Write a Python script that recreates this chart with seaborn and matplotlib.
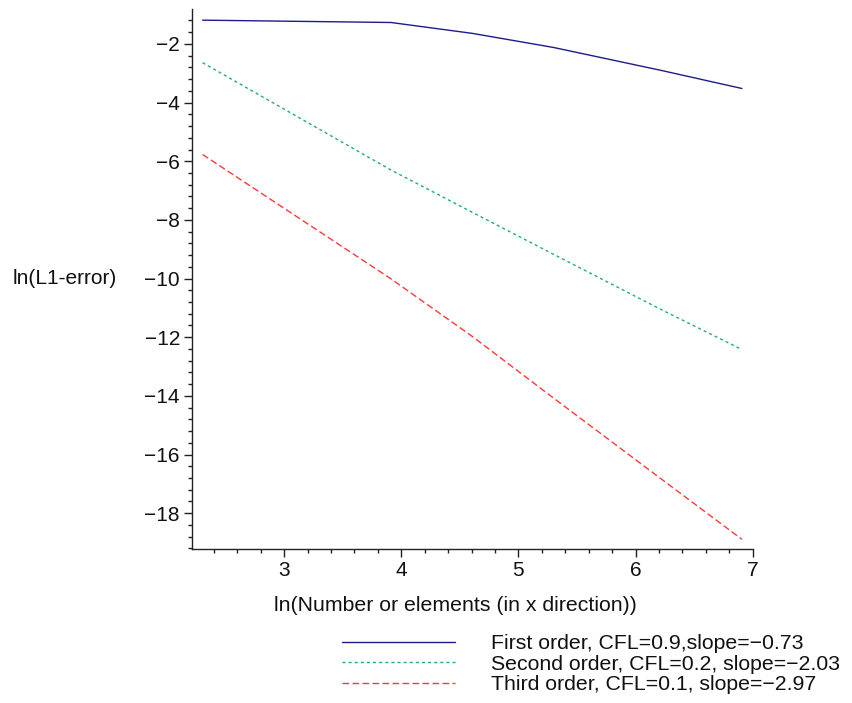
import numpy as np
import pandas as pd
import matplotlib
matplotlib.use("Agg")
import matplotlib.pyplot as plt
import seaborn as sns

# Data: ln(N) and ln(L1-error)
x_vals = [2.303, 3.912, 4.605, 5.298, 6.215, 6.908]
first_order = [-1.19, -1.27, -1.64, -2.12, -2.90, -3.52]
second_order = [-2.64, -6.30, -7.74, -9.17, -11.05, -12.42]
third_order = [-5.77, -10.01, -11.97, -14.07, -16.82, -18.89]

labels = [
    "First order, CFL=0.9,slope=\u22120.73",
    "Second order, CFL=0.2, slope=\u22122.03",
    "Third order, CFL=0.1, slope=\u22122.97",
]
colors = ["#1c1c8c", "#20b070", "#ff3838"]
dash_patterns = [None, (2.2, 2.2), (4.8, 2.4)]

sns.set_theme(style="ticks")
plt.rcParams["font.family"] = ["Liberation Sans", "DejaVu Sans"]
plt.rcParams["axes.unicode_minus"] = True

W, H = 852, 703
fig = plt.figure(figsize=(W / 100, H / 100), dpi=100)
ax = fig.add_axes([191.7 / W, 1 - 549 / H, (752.7 - 191.7) / W, (549 - 9.3) / H])

for ys, lab, col, dp in zip([first_order, second_order, third_order], labels, colors, dash_patterns):
    df = pd.DataFrame({"x": x_vals, "y": ys})
    sns.lineplot(data=df, x="x", y="y", ax=ax, color=col, linewidth=1.0, label=lab, sort=False)
    ln = ax.lines[-1]
    if dp is not None:
        ln.set_dashes(dp)

ax.set_xlim(2.21, 7.0)
ax.set_ylim(-19.22, -0.82)
ax.set_xticks([3, 4, 5, 6, 7])
ax.set_xticks(np.arange(2.4, 7.0, 0.2), minor=True)
ax.set_yticks([-2, -4, -6, -8, -10, -12, -14, -16, -18])
ax.set_yticks(np.arange(-19.2, -0.9, 0.4), minor=True)
ax.set_xticklabels(["3", "4", "5", "6", "7"])
ax.set_yticklabels(["\u22122", "\u22124", "\u22126", "\u22128", "\u221210", "\u221212", "\u221214", "\u221216", "\u221218"])

for s in ["top", "right"]:
    ax.spines[s].set_visible(False)
for s in ["left", "bottom"]:
    ax.spines[s].set_color("#222222")
    ax.spines[s].set_linewidth(1.0)

ax.tick_params(axis="both", which="major", direction="out", length=5.5, width=1.0,
               color="#222222", labelsize=15, labelcolor="#111111", pad=3)
ax.tick_params(axis="both", which="minor", direction="out", length=3, width=1.0, color="#222222")

ax.set_xlabel("ln(Number or elements (in x direction))", fontsize=15.3, color="#111111")
ax.xaxis.set_label_coords(0.471, -0.105)
ax.xaxis.label.set_va("center")
ax.set_ylabel("ln(L1-error)", fontsize=15, color="#111111", rotation=0, ha="left", va="center")
ax.yaxis.set_label_coords(-0.319, 0.502)

leg = ax.legend(loc="upper left", bbox_to_anchor=(342 / W, 1 - 634 / H), bbox_transform=fig.transFigure,
                frameon=False, fontsize=15.3, handlelength=5.3, handletextpad=1.7,
                labelspacing=0.08, borderpad=0, borderaxespad=0)
for t in leg.get_texts():
    t.set_color("#111111")

fig.savefig("out.png", dpi=100)
